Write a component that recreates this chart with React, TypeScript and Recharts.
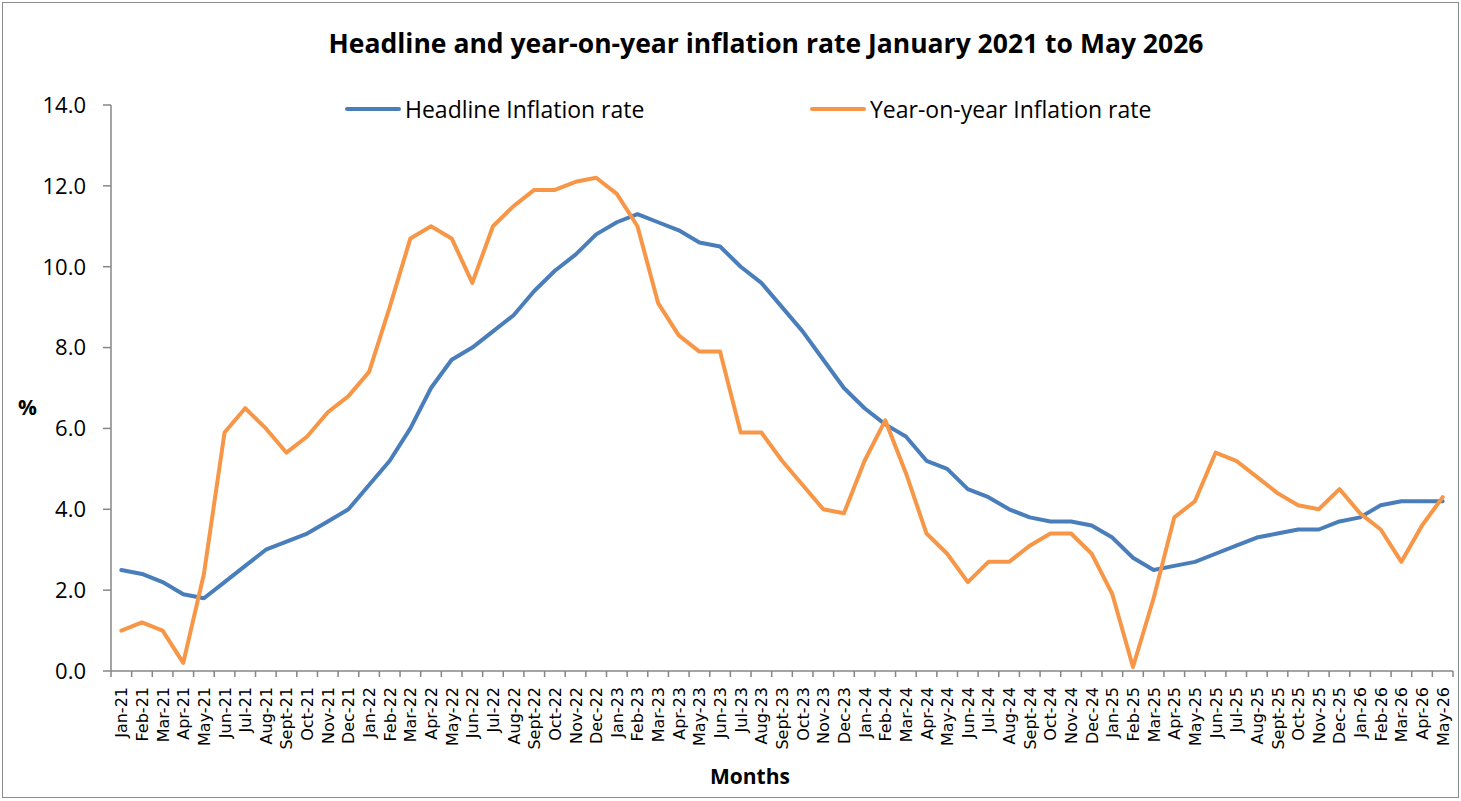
import { LineChart, Line, XAxis, YAxis, Legend } from 'recharts';

const months = [
  'Jan-21', 'Feb-21', 'Mar-21', 'Apr-21', 'May-21', 'Jun-21', 'Jul-21', 'Aug-21', 'Sept-21', 'Oct-21', 'Nov-21', 'Dec-21',
  'Jan-22', 'Feb-22', 'Mar-22', 'Apr-22', 'May-22', 'Jun-22', 'Jul-22', 'Aug-22', 'Sept-22', 'Oct-22', 'Nov-22', 'Dec-22',
  'Jan-23', 'Feb-23', 'Mar-23', 'Apr-23', 'May-23', 'Jun-23', 'Jul-23', 'Aug-23', 'Sept-23', 'Oct-23', 'Nov-23', 'Dec-23',
  'Jan-24', 'Feb-24', 'Mar-24', 'Apr-24', 'May-24', 'Jun-24', 'Jul-24', 'Aug-24', 'Sept-24', 'Oct-24', 'Nov-24', 'Dec-24',
  'Jan-25', 'Feb-25', 'Mar-25', 'Apr-25', 'May-25', 'Jun-25', 'Jul-25', 'Aug-25', 'Sept-25', 'Oct-25', 'Nov-25', 'Dec-25',
  'Jan-26', 'Feb-26', 'Mar-26', 'Apr-26', 'May-26',
];

const headline = [
  2.5, 2.4, 2.2, 1.9, 1.8, 2.2, 2.6, 3.0, 3.2, 3.4, 3.7, 4.0,
  4.6, 5.2, 6.0, 7.0, 7.7, 8.0, 8.4, 8.8, 9.4, 9.9, 10.3, 10.8,
  11.1, 11.3, 11.1, 10.9, 10.6, 10.5, 10.0, 9.6, 9.0, 8.4, 7.7, 7.0,
  6.5, 6.1, 5.8, 5.2, 5.0, 4.5, 4.3, 4.0, 3.8, 3.7, 3.7, 3.6,
  3.3, 2.8, 2.5, 2.6, 2.7, 2.9, 3.1, 3.3, 3.4, 3.5, 3.5, 3.7,
  3.8, 4.1, 4.2, 4.2, 4.2,
];

const yoy = [
  1.0, 1.2, 1.0, 0.2, 2.4, 5.9, 6.5, 6.0, 5.4, 5.8, 6.4, 6.8,
  7.4, 9.0, 10.7, 11.0, 10.7, 9.6, 11.0, 11.5, 11.9, 11.9, 12.1, 12.2,
  11.8, 11.0, 9.1, 8.3, 7.9, 7.9, 5.9, 5.9, 5.2, 4.6, 4.0, 3.9,
  5.2, 6.2, 4.9, 3.4, 2.9, 2.2, 2.7, 2.7, 3.1, 3.4, 3.4, 2.9,
  1.9, 0.1, 1.8, 3.8, 4.2, 5.4, 5.2, 4.8, 4.4, 4.1, 4.0, 4.5,
  3.9, 3.5, 2.7, 3.6, 4.3,
];

const yTicks = [0, 2, 4, 6, 8, 10, 12, 14];

const data = months.map((m, i) => ({ month: m, headline: headline[i], yoy: yoy[i] }));

const W = 1461;
const H = 801;
const PLOT_LEFT = 111;
const PLOT_RIGHT = 1453;
const BAND = (PLOT_RIGHT - PLOT_LEFT) / months.length;
const AXIS = '#868686';
const FONT = '"Open Sans", sans-serif';

const XTick = (props: any) => {
  const { x, y, payload } = props;
  const isLast = payload.value === months[months.length - 1];
  return (
    <g>
      <line x1={x - BAND / 2} x2={x - BAND / 2} y1={y} y2={y + 6} stroke={AXIS} strokeWidth={1.5} />
      {isLast && <line x1={x + BAND / 2} x2={x + BAND / 2} y1={y} y2={y + 6} stroke={AXIS} strokeWidth={1.5} />}
      <text
        transform={`translate(${x + 6},${y + 16}) rotate(-90)`}
        textAnchor="end"
        fontFamily="DejaVu Sans"
        fontSize={16}
        fill="#000"
      >
        {payload.value}
      </text>
    </g>
  );
};

const renderLegend = (props: any) => {
  const { payload } = props;
  const spots = [345, 810];
  return (
    <div style={{ position: 'relative', height: 30 }}>
      {(payload || []).map((p: any, i: number) => (
        <div
          key={p.value}
          style={{ position: 'absolute', left: spots[i], top: 0, display: 'flex', alignItems: 'center', whiteSpace: 'nowrap' }}
        >
          <div style={{ width: 56, height: 4, borderRadius: 2, background: p.color, marginRight: 4 }} />
          <span style={{ fontFamily: FONT, fontSize: 23, color: '#000' }}>{p.value}</span>
        </div>
      ))}
    </div>
  );
};

const App = () => {
  return (
    <div style={{ position: 'absolute', left: 0, top: 0, width: W, height: H, background: '#fff' }}>
      <div
        style={{
          position: 'absolute',
          left: 2,
          top: 2,
          width: 1455,
          height: 794,
          border: '1.5px solid #8c8c8c',
        }}
      />
      <div
        style={{
          position: 'absolute',
          left: 0,
          top: 25,
          width: 1532,
          textAlign: 'center',
          fontFamily: FONT,
          fontWeight: 'bold',
          fontSize: 26.5,
          color: '#000',
        }}
      >
        Headline and year-on-year inflation rate January 2021 to May 2026
      </div>
      <div style={{ position: 'absolute', left: 0, top: 0 }}>
        <LineChart width={W} height={H} data={data} margin={{ top: 105, right: W - PLOT_RIGHT, left: 0, bottom: 5 }}>
          <XAxis
            dataKey="month"
            scale="band"
            interval={0}
            height={125}
            tick={<XTick />}
            tickLine={false}
            tickSize={0}
            tickMargin={0}
            axisLine={{ stroke: AXIS, strokeWidth: 1.5 }}
            label={{
              value: 'Months',
              position: 'insideBottom',
              offset: 12,
              dx: -32,
              style: { fontFamily: FONT, fontWeight: 'bold', fontSize: 21, fill: '#000' },
            }}
          />
          <YAxis
            width={PLOT_LEFT}
            domain={[0, 14]}
            ticks={yTicks}
            interval={0}
            tickFormatter={(v: number) => v.toFixed(1)}
            tick={{ fontFamily: FONT, fontSize: 22, fill: '#000' }}
            tickSize={8}
            tickMargin={17}
            tickLine={{ stroke: AXIS, strokeWidth: 1.5 }}
            axisLine={{ stroke: AXIS, strokeWidth: 1.5 }}
            label={{
              value: '%',
              position: 'insideLeft',
              offset: 18,
              dy: 20,
              style: { fontFamily: FONT, fontWeight: 'bold', fontSize: 21, fill: '#000' },
            }}
          />
          <Legend
            verticalAlign="middle"
            align="center"
            layout="horizontal"
            content={renderLegend}
            wrapperStyle={{ position: 'absolute', top: 93, left: 0, width: W }}
          />
          <Line
            type="linear"
            dataKey="headline"
            name="Headline Inflation rate"
            stroke="#4A7EBB"
            strokeWidth={4}
            strokeLinecap="round"
            strokeLinejoin="round"
            dot={false}
            isAnimationActive={false}
          />
          <Line
            type="linear"
            dataKey="yoy"
            name="Year-on-year Inflation rate"
            stroke="#F79646"
            strokeWidth={4}
            strokeLinecap="round"
            strokeLinejoin="round"
            dot={false}
            isAnimationActive={false}
          />
        </LineChart>
      </div>
    </div>
  );
};

export default App;
